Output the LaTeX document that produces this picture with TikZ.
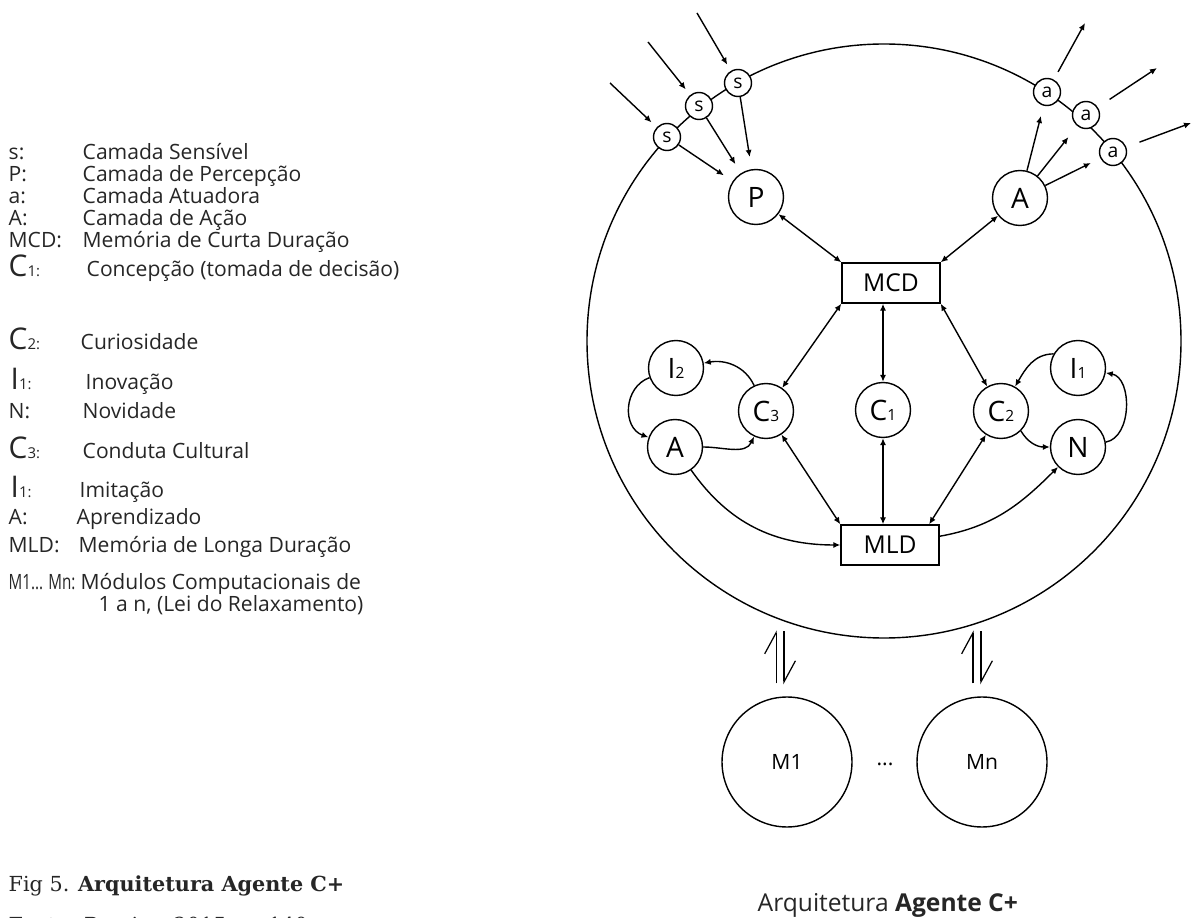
\documentclass[tikz,border=0pt]{standalone}
\usepackage{fontspec}
\setmainfont{Open Sans}
\newfontfamily\capfont{DejaVu Serif}
\usetikzlibrary{arrows.meta}

\newcommand\sm[1]{\scalebox{0.55}{#1}}
\newcommand\lbig[2]{{\fontsize{17}{17}\selectfont #1}{\fontsize{8.5}{9}\selectfont #2}}

\begin{document}
\begin{tikzpicture}[x=0.02cm,y=0.02cm,line width=0.8pt,
    >={Latex[length=4pt,width=3.5pt]},
    sn/.style={circle,draw,fill=white,inner sep=0pt,minimum size=0.54cm,font=\fontsize{11}{11}\selectfont},
    cn/.style={circle,draw,fill=white,inner sep=0pt,minimum size=1.1cm,font=\fontsize{16}{16}\selectfont},
    mem/.style={rectangle,draw,fill=white,minimum width=1.96cm,minimum height=0.8cm,font=\fontsize{14}{14}\selectfont},
    modl/.style={circle,draw,inner sep=0pt,minimum size=2.6cm,font=\fontsize{12}{12}\selectfont},
    lab/.style={anchor=base west,inner sep=0pt,text=black!85,font=\fontsize{12}{15}\selectfont},
    hp/.style={-{Straight Barb[harpoon,length=12pt,width=13pt]},line width=0.7pt}]

    \useasboundingbox (0,0) rectangle (1197,-918);

    % agente
    \draw (884,-341) circle [radius=297];

    \node[sn] (s1) at (667,-137) {s};
    \node[sn] (s2) at (699,-106) {s};
    \node[sn] (s3) at (738,-83) {s};
    \node[sn] (a1) at (1047,-92) {a};
    \node[sn] (a2) at (1086,-115) {a};
    \node[sn] (a3) at (1113,-152) {a};

    \node[cn] (P) at (756,-197) {P};
    \node[cn] (At) at (1020,-198) {A};
    \node[mem] (MCD) at (891,-283) {MCD};
    \node[cn] (I2) at (676,-368) {I\sm{2}};
    \node[cn] (Al) at (675,-447) {A};
    \node[cn] (C3) at (766,-411) {C\sm{3}};
    \node[cn] (C1) at (883,-410) {C\sm{1}};
    \node[cn] (C2) at (1001,-411) {C\sm{2}};
    \node[cn] (I1) at (1078,-368) {I\sm{1}};
    \node[cn] (N) at (1078,-447) {N};
    \node[mem] (MLD) at (890,-545) {MLD};

    \node[modl] (M1) at (787,-762) {M1};
    \node[modl] (Mn) at (982,-762) {Mn};
    \node[anchor=base,font=\fontsize{12}{12}\selectfont] (dd) at (885,-765) {...};

    \coordinate (i1) at (610,-83);
    \coordinate (i2) at (648,-42);
    \coordinate (i3) at (697,-13);
    \coordinate (o1) at (1085,-23);
    \coordinate (o2) at (1157,-68);
    \coordinate (o3) at (1191,-123);

    \draw[->,shorten >=4pt] (i1) -- (s1);
    \draw[->,shorten >=4pt] (i2) -- (s2);
    \draw[->,shorten >=4pt] (i3) -- (s3);
    \draw[->,shorten >=6pt] (s1) -- (P);
    \draw[->,shorten >=6pt] (s2) -- (P);
    \draw[->,shorten >=7pt] (s3) -- (P);
    \draw[->,shorten >=6pt] (At) -- (a1);
    \draw[->,shorten >=8pt] (At) -- (a2);
    \draw[->,shorten >=6pt] (At) -- (a3);
    \draw[->,shorten <=5pt] (a1) -- (o1);
    \draw[->,shorten <=8pt] (a2) -- (o2);
    \draw[->,shorten <=8pt] (a3) -- (o3);

    \draw[<->] (MCD.north west) -- (P);
    \draw[<->] (MCD.north east) -- (At);
    \draw[<->] (MCD.south west) -- (C3);
    \draw[<->] (MCD.south -| C1) -- (C1);
    \draw[<->] (MCD.south east) -- (C2);
    \draw[<->] (MLD.north west) -- (C3);
    \draw[<->] (MLD.north -| C1) -- (C1);
    \draw[<->] ([xshift=-6pt]MLD.north east) -- (C2);

    \draw[->] (Al) to[out=0,in=-115] (C3);
    \draw[->] (C3) to[out=115,in=10] (I2);
    \draw[->] (I2) to[out=200,in=160,looseness=1.2] (Al);
    \draw[->] (I1.150) to[out=180,in=60] (C2);
    \draw[->] (C2.-45) to[out=-60,in=180] (N);
    \draw[->] (N) to[out=10,in=-10] (I1);
    \draw[->] (Al) to[out=-55,in=180] (MLD);
    \draw[->] (MLD) to[out=10,in=-135] (N);

    \draw[hp] ([xshift=-6.2pt,yshift=7.4pt]M1.north) -- ++(0,53);
    \draw[hp] ([xshift=-1.7pt,yshift=37pt]M1.north) -- ++(0,-53);
    \draw[hp] ([xshift=-5.1pt,yshift=7.4pt]Mn.north) -- ++(0,53);
    \draw[hp] ([xshift=-0.6pt,yshift=37pt]Mn.north) -- ++(0,-53);

    % legenda
    \node[lab] (k1) at (8,-160) {s:};
    \node[lab] (t1) at (82,-160) {Camada Sensível};
    \node[lab] (k2) at (8,-182) {P:};
    \node[lab] (t2) at (82,-182) {Camada de Percepção};
    \node[lab] (k3) at (8,-204) {a:};
    \node[lab] (t3) at (82,-204) {Camada Atuadora};
    \node[lab] (k4) at (8,-226) {A:};
    \node[lab] (t4) at (82,-226) {Camada de Ação};
    \node[lab] (k5) at (8,-248) {MCD:};
    \node[lab] (t5) at (82,-248) {Memória de Curta Duração};
    \node[lab] (k6) at (8,-277) {\lbig{C}{1:}};
    \node[lab] (t6) at (86,-277) {Concepção (tomada de decisão)};
    \node[lab] (k7) at (8,-350) {\lbig{C}{2:}};
    \node[lab] (t7) at (80,-350) {Curiosidade};
    \node[lab] (k8) at (10,-390) {\lbig{I}{1:}};
    \node[lab] (t8) at (85,-390) {Inovação};
    \node[lab] (k9) at (8,-419) {N:};
    \node[lab] (t9) at (82,-419) {Novidade};
    \node[lab] (k10) at (8,-459) {\lbig{C}{3:}};
    \node[lab] (t10) at (82,-459) {Conduta Cultural};
    \node[lab] (k11) at (10,-498) {\lbig{I}{1:}};
    \node[lab] (t11) at (79,-498) {Imitação};
    \node[lab] (k12) at (8,-525) {A:};
    \node[lab] (t12) at (76,-525) {Aprendizado};
    \node[lab] (k13) at (8,-553) {MLD:};
    \node[lab] (t13) at (78,-553) {Memória de Longa Duração};
    \node[lab] (k14) at (8,-590) {\scalebox{0.72}[1]{M1... Mn:}};
    \node[lab] (t14) at (80,-590) {Módulos Computacionais de};
    \node[lab] (t15) at (98,-612) {1 a n, (Lei do Relaxamento)};

    \node[anchor=base west,inner sep=0pt,text=black!85,font=\fontsize{14}{14}\selectfont] (tit) at (757,-911) {Arquitetura \textbf{Agente C+}};
    \node[anchor=base west,inner sep=0pt,text=black!85,font=\capfont\fontsize{11.8}{12}\selectfont] (fig) at (8,-891) {Fig 5. \textbf{Arquitetura Agente C+}};
    \node[anchor=base west,inner sep=0pt,text=black!85,font=\capfont\fontsize{11.8}{12}\selectfont] (fonte) at (8,-932) {Fonte: Pereira, 2015, p. 140};
\end{tikzpicture}
\end{document}
